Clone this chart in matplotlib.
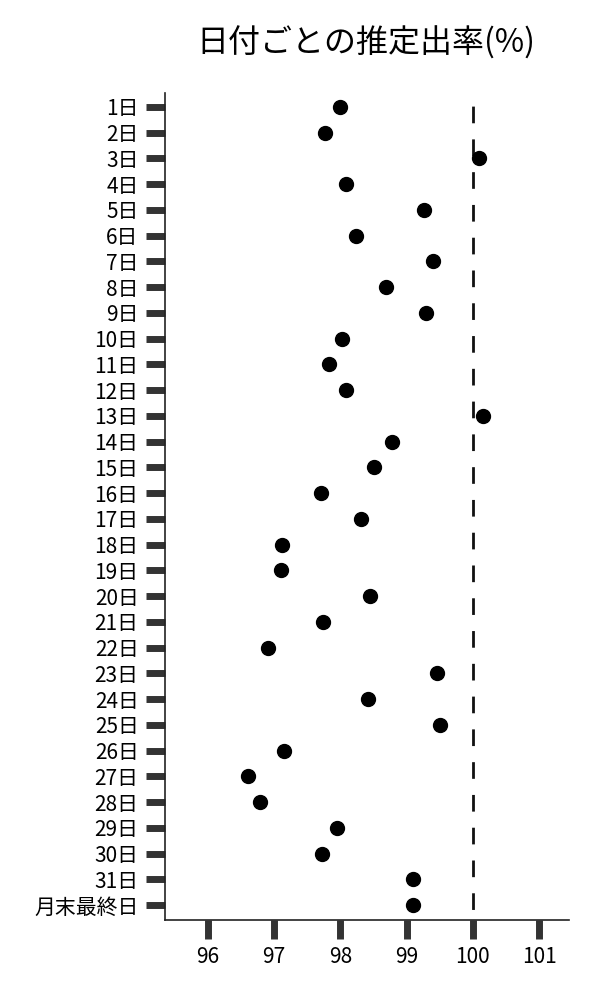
import matplotlib.pyplot as plt

plt.rcParams['font.family'] = ['Noto Sans CJK JP', 'DejaVu Sans']

days = [f'{i}日' for i in range(1, 32)] + ['月末最終日']
rates = [98.00, 97.76, 100.10, 98.08, 99.27, 98.23, 99.40, 98.69, 99.30, 98.03,
         97.82, 98.08, 100.16, 98.78, 98.51, 97.70, 98.31, 97.12, 97.10, 98.44,
         97.74, 96.90, 99.46, 98.42, 99.51, 97.15, 96.60, 96.78, 97.95, 97.72,
         99.09, 99.09]
ref_line = 100
xticks = [96, 97, 98, 99, 100, 101]

fig = plt.figure(figsize=(6, 10), dpi=100)
ax = fig.add_axes([0.275, 0.08, 0.673, 0.827])

pos = list(range(len(days)))
ax.scatter(rates, pos, s=100, color='black', zorder=3)
ax.axvline(ref_line, color='#111111', linestyle=(8, (6, 5.8)), linewidth=2)

ax.set_yticks(pos)
ax.set_yticklabels(days, fontsize=15)
ax.set_ylim(len(days) - 1 + 0.58, -0.54)
ax.set_xticks(xticks)
ax.set_xticklabels([str(t) for t in xticks], fontsize=15)
ax.set_xlim(95.35, 101.45)

ax.tick_params(axis='both', length=14, width=5, color='#333333', pad=5)
for side in ['top', 'right']:
    ax.spines[side].set_visible(False)
for side in ['left', 'bottom']:
    ax.spines[side].set_linewidth(1.2)
    ax.spines[side].set_color('#222222')

fig.text(0.61, 0.957, '日付ごとの推定出率(%)', fontsize=23, ha='center', va='center')

fig.savefig('out.png', dpi=100)
plt.close(fig)
